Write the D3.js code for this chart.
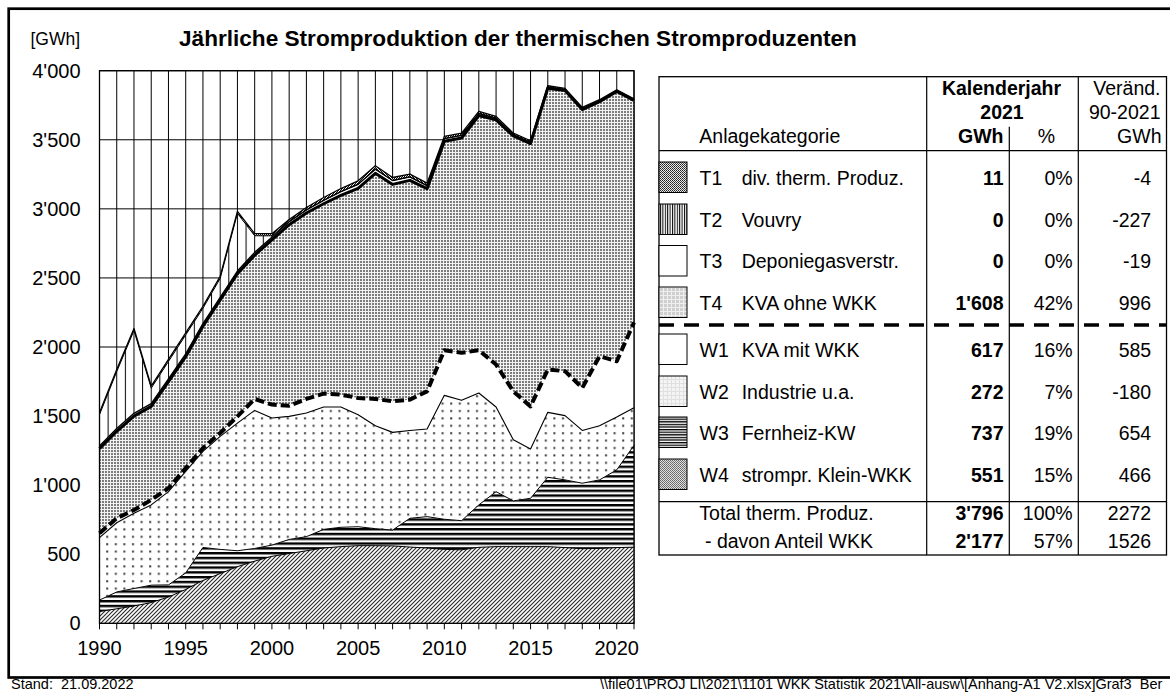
<!DOCTYPE html>
<html><head><meta charset="utf-8">
<script src="https://cdn.jsdelivr.net/npm/d3@7"></script>
<style>
html,body{margin:0;padding:0;background:#fff;}
svg{display:block;}
text{font-family:"Liberation Sans",Arial,Helvetica,sans-serif;fill:#000;}
</style>
</head><body>
<svg id="c" width="1170" height="693"></svg>
<script>
// ---------------- DATA ----------------
const years = [1990,1991,1992,1993,1994,1995,1996,1997,1998,1999,2000,2001,2002,2003,2004,2005,
               2006,2007,2008,2009,2010,2011,2012,2013,2014,2015,2016,2017,2018,2019,2020,2021];
// W4 strompr. Klein-WKK
const W4 = [85,105,125,150,190,245,310,360,410,450,485,505,525,545,555,562,562,560,552,545,535,532,550,555,555,555,555,548,540,542,548,551];
// W3 Fernheiz-KW
const W3 = [83,122,127,126,88,120,239,175,115,92,81,102,102,135,140,137,123,115,208,227,218,211,307,398,331,350,502,490,474,496,563,737];
// W2 Industrie u.a.
const W2 = [452,501,544,581,675,734,695,818,924,999,920,891,895,886,871,811,745,707,636,634,897,871,810,613,442,356,470,465,382,392,382,272];
// W1 KVA mit WKK
const W1 = [32,32,24,36,25,24,24,24,49,83,97,77,102,96,89,121,194,225,223,273,327,344,310,307,351,309,310,322,308,503,404,617];
// T4 KVA ohne WKK
const T4 = [612,630,680,677,772,807,882,963,1032,1041,1192,1310,1346,1375,1442,1517,1633,1570,1587,1467,1512,1555,1698,1771,1849,1903,2036,2031,2015,1843,1953,1608];
// T3 Deponiegasverstr.
const T3 = [19,20,20,20,20,20,20,20,20,20,20,22,22,25,28,30,30,28,25,22,19,19,15,12,8,8,7,6,5,4,2,0];
// T2 Vouvry
const T2 = [227,412,599,112,125,137,110,137,417,120,10,0,0,0,0,0,0,0,0,0,0,0,0,0,0,0,0,0,0,0,0,0];
// T1 div. therm. Produz.
const T1 = [15,15,15,15,15,15,15,15,15,15,15,15,18,20,22,25,25,22,20,18,16,16,15,13,12,12,11,10,10,10,10,11];

const yTicks = [0,500,1000,1500,2000,2500,3000,3500,4000];
const xTickLabels = [1990,1995,2000,2005,2010,2015,2020];

const title = "Jährliche Stromproduktion der thermischen Stromproduzenten";
const unitLabel = "[GWh]";

const legCodes = ["T1","T2","T3","T4","W1","W2","W3","W4"];
const legNames = ["div. therm. Produz.","Vouvry","Deponiegasverstr.","KVA ohne WKK","KVA mit WKK","Industrie u.a.","Fernheiz-KW","strompr. Klein-WKK"];
const gwh2021 = ["11","0","0","1'608","617","272","737","551"];
const pct2021 = ["0%","0%","0%","42%","16%","7%","19%","15%"];
const chg9021 = ["-4","-227","-19","996","585","-180","654","466"];
const totLabels = ["Total therm. Produz.","- davon Anteil WKK"];
const totGwh = ["3'796","2'177"];
const totPct = ["100%","57%"];
const totChg = ["2272","1526"];

const footLeft = "Stand:  21.09.2022";
const footPath = "\\\\file01\\PROJ LI\\2021\\1101 WKK Statistik 2021\\All-ausw\\[Anhang-A1 V2.xlsx]Graf3";
const footTail = "  Ber";

// ---------------- SETUP ----------------
const svg = d3.select("#c");
const defs = svg.append("defs");
const fmt = d3.formatLocale({decimal:".", thousands:"'", grouping:[3], currency:["",""]}).format(",");

const x = d3.scaleLinear().domain([1990,2021]).range([99.5,634]);
const y = d3.scaleLinear().domain([0,4000]).range([623.3,70.7]);

function pattern(id, w, h, draw, tx) {
  const p = defs.append("pattern").attr("id", id).attr("patternUnits","userSpaceOnUse")
    .attr("width", w).attr("height", h);
  if (tx !== undefined) p.attr("patternTransform", `translate(${tx},0)`);
  draw(p);
}
// chart patterns
pattern("pT1", 2, 2, p => { p.append("rect").attr("width",2).attr("height",2).attr("fill","#fff");
  p.append("rect").attr("width",1).attr("height",1).attr("fill","#111");
  p.append("rect").attr("x",1).attr("y",1).attr("width",1).attr("height",1).attr("fill","#111"); });
const hw = (x(1991)-x(1990))/2;
pattern("pT2", hw, 10, p => { p.append("rect").attr("width",hw).attr("height",10).attr("fill","#fff");
  p.append("rect").attr("x",0).attr("width",1).attr("height",10).attr("fill","#000"); }, x(1990)-0.5);
pattern("pT4", 3, 3, p => { p.append("rect").attr("width",3).attr("height",3).attr("fill","#f2f2f2");
  p.append("rect").attr("width",2).attr("height",2).attr("fill","#7c7c7c"); });
pattern("pW2", 8.6, 7.4, p => { p.append("rect").attr("width",8.6).attr("height",7.4).attr("fill","#fff");
  p.append("rect").attr("x",3).attr("y",3).attr("width",2).attr("height",2).attr("fill","#3a3a3a"); });
pattern("pW3", 10, 4.8, p => { p.append("rect").attr("width",10).attr("height",4.8).attr("fill","#fff");
  p.append("rect").attr("width",10).attr("height",2.4).attr("fill","#000"); });
pattern("pW4", 4, 4, p => { p.append("rect").attr("width",4).attr("height",4).attr("fill","#fff");
  p.append("path").attr("d","M-1,1 L1,-1 M0,4 L4,0 M3,5 L5,3").attr("stroke","#2a2a2a").attr("stroke-width",1.15); });
// legend patterns
pattern("lT1", 2, 2, p => { p.append("rect").attr("width",2).attr("height",2).attr("fill","#e8e8e8");
  p.append("rect").attr("width",1).attr("height",1).attr("fill","#222");
  p.append("rect").attr("x",1).attr("y",1).attr("width",1).attr("height",1).attr("fill","#444"); });
pattern("lT2", 2.4, 4, p => { p.append("rect").attr("width",2.4).attr("height",4).attr("fill","#fff");
  p.append("rect").attr("width",1).attr("height",4).attr("fill","#000"); });
pattern("lT4", 4, 4, p => { p.append("rect").attr("width",4).attr("height",4).attr("fill","#cfcfcf");
  p.append("rect").attr("x",3).attr("width",1).attr("height",4).attr("fill","#efefef");
  p.append("rect").attr("y",3).attr("width",4).attr("height",1).attr("fill","#efefef"); });
pattern("lW2", 4, 4, p => { p.append("rect").attr("width",4).attr("height",4).attr("fill","#f4f4f4");
  p.append("rect").attr("x",3).attr("width",1).attr("height",4).attr("fill","#e0e0e0");
  p.append("rect").attr("y",3).attr("width",4).attr("height",1).attr("fill","#e0e0e0"); });
pattern("lW3", 4, 2.6, p => { p.append("rect").attr("width",4).attr("height",2.6).attr("fill","#fff");
  p.append("rect").attr("width",4).attr("height",1.3).attr("fill","#000"); });
pattern("lW4", 2, 2, p => { p.append("rect").attr("width",2).attr("height",2).attr("fill","#e0e0e0");
  p.append("rect").attr("width",1).attr("height",1).attr("fill","#666");
  p.append("rect").attr("x",1).attr("y",1).attr("width",1).attr("height",1).attr("fill","#777"); });

// ---------------- FRAME ----------------
svg.append("rect").attr("x",8.7).attr("y",8.7).attr("width",1175).attr("height",668.8)
  .attr("fill","#fff").attr("stroke","#000").attr("stroke-width",2.7);

// title + unit
svg.append("text").attr("x",179).attr("y",45.5).attr("font-size",22.6).attr("font-weight","bold").text(title);
svg.append("text").attr("x",30.5).attr("y",45).attr("font-size",17.5).text(unitLabel);

// ---------------- CHART ----------------
const g = svg.append("g");
g.append("rect").attr("x",x(1990)).attr("y",y(4000)).attr("width",x(2021)-x(1990)).attr("height",y(0)-y(4000)).attr("fill","#fff");
// gridlines
g.selectAll(".hg").data(yTicks).join("line").attr("x1",x(1990)).attr("x2",x(2021))
  .attr("y1",d=>y(d)).attr("y2",d=>y(d)).attr("stroke","#000").attr("stroke-width",1);
g.selectAll(".vg").data(years).join("line").attr("x1",d=>x(d)).attr("x2",d=>x(d))
  .attr("y1",y(0)).attr("y2",y(4000)).attr("stroke","#000").attr("stroke-width",1);

const keys = ["W4","W3","W2","W1","T4","T3","T2","T1"];
const src = {W4,W3,W2,W1,T4,T3,T2,T1};
const rows = years.map((yr,i) => { const o = {year:yr}; keys.forEach(k => o[k] = src[k][i]); return o; });
const stack = d3.stack().keys(keys)(rows);
const fills = {W4:"url(#pW4)",W3:"url(#pW3)",W2:"url(#pW2)",W1:"#fff",T4:"url(#pT4)",T3:"#fff",T2:"url(#pT2)",T1:"url(#pT1)"};
const area = d3.area().x(d=>x(d.data.year)).y0(d=>y(d[0])).y1(d=>y(d[1]));
g.selectAll(".ar").data(stack).join("path").attr("d",area).attr("fill",d=>fills[d.key]).attr("stroke","none");

const topLine = d3.line().x(d=>x(d.data.year)).y(d=>y(d[1]));
const lineStyle = {
  W4:{w:1,dash:null}, W3:{w:1,dash:null}, W2:{w:1.1,dash:null}, W1:{w:4,dash:"9,4"},
  T4:{w:3,dash:null}, T3:{w:1.4,dash:null}, T2:{w:1,dash:null}, T1:{w:1.3,dash:null}
};
g.selectAll(".tl").data(stack).join("path").attr("d",d=>topLine(d)).attr("fill","none")
  .attr("stroke","#000").attr("stroke-width",d=>lineStyle[d.key].w)
  .attr("stroke-dasharray",d=>lineStyle[d.key].dash).attr("stroke-linejoin","round");

// plot border
g.append("rect").attr("x",x(1990)).attr("y",y(4000)).attr("width",x(2021)-x(1990)).attr("height",y(0)-y(4000))
  .attr("fill","none").attr("stroke","#000").attr("stroke-width",1.3);
// x ticks
g.selectAll(".xt").data(years).join("line").attr("x1",d=>x(d)).attr("x2",d=>x(d))
  .attr("y1",y(0)).attr("y2",y(0)+6).attr("stroke","#000").attr("stroke-width",1);
g.selectAll(".xl").data(xTickLabels).join("text").attr("x",d=>x(d)).attr("y",655)
  .attr("text-anchor","middle").attr("font-size",20).text(d=>d);
g.selectAll(".yl").data(yTicks).join("text").attr("x",80.5).attr("y",d=>y(d)+7)
  .attr("text-anchor","end").attr("font-size",20).text(d=>fmt(d));

// ---------------- TABLE ----------------
const t = svg.append("g");
const TL=659, TR=1166.5, TT=76.7, TB=555;
const cLab=926.7, cPct=1009.3, cChg=1078.3;
const fs = 19.5;
t.append("rect").attr("x",TL).attr("y",TT).attr("width",TR-TL).attr("height",TB-TT)
  .attr("fill","#fff").attr("stroke","#000").attr("stroke-width",1.3);
t.append("line").attr("x1",cLab).attr("x2",cLab).attr("y1",TT).attr("y2",TB).attr("stroke","#000").attr("stroke-width",1.2);
t.append("line").attr("x1",cPct).attr("x2",cPct).attr("y1",126.7).attr("y2",TB).attr("stroke","#000").attr("stroke-width",1.2);
t.append("line").attr("x1",cChg).attr("x2",cChg).attr("y1",TT).attr("y2",TB).attr("stroke","#000").attr("stroke-width",1.2);
t.append("line").attr("x1",TL).attr("x2",TR).attr("y1",150.7).attr("y2",150.7).attr("stroke","#000").attr("stroke-width",1.2);
t.append("line").attr("x1",TL).attr("x2",TR).attr("y1",501.7).attr("y2",501.7).attr("stroke","#000").attr("stroke-width",1.2);
t.append("line").attr("x1",TL).attr("x2",TR).attr("y1",325).attr("y2",325).attr("stroke","#000")
  .attr("stroke-width",3.6).attr("stroke-dasharray","15,10");

// header
t.append("text").attr("x",1001.5).attr("y",95).attr("text-anchor","middle").attr("font-size",fs).attr("font-weight","bold").text("Kalenderjahr");
t.append("text").attr("x",1002).attr("y",118.5).attr("text-anchor","middle").attr("font-size",fs).attr("font-weight","bold").text("2021");
t.append("text").attr("x",1003.5).attr("y",143.3).attr("text-anchor","end").attr("font-size",fs).attr("font-weight","bold").text("GWh");
t.append("text").attr("x",1046.5).attr("y",143.3).attr("text-anchor","middle").attr("font-size",fs).text("%");
t.append("text").attr("x",1160.5).attr("y",95).attr("text-anchor","end").attr("font-size",fs).text("Veränd.");
t.append("text").attr("x",1160.5).attr("y",118.5).attr("text-anchor","end").attr("font-size",fs).text("90-2021");
t.append("text").attr("x",1161.5).attr("y",143.3).attr("text-anchor","end").attr("font-size",fs).text("GWh");
t.append("text").attr("x",699.3).attr("y",143.3).attr("font-size",fs).text("Anlagekategorie");

const swTop = [162,204,245.5,287,334,376,417,459];
const legFill = {T1:"url(#lT1)",T2:"url(#lT2)",T3:"#fff",T4:"url(#lT4)",W1:"#fff",W2:"url(#lW2)",W3:"url(#lW3)",W4:"url(#lW4)"};
legCodes.forEach((c,i) => {
  const top = swTop[i], base = top + 22.5;
  t.append("rect").attr("x",TL).attr("y",top).attr("width",28).attr("height",30.5)
    .attr("fill",legFill[c]).attr("stroke","#000").attr("stroke-width",1);
  t.append("text").attr("x",699.5).attr("y",base).attr("font-size",fs).text(c);
  t.append("text").attr("x",741.7).attr("y",base).attr("font-size",fs).text(legNames[i]);
  t.append("text").attr("x",1003.5).attr("y",base).attr("text-anchor","end").attr("font-size",fs).attr("font-weight","bold").text(gwh2021[i]);
  t.append("text").attr("x",1072.7).attr("y",base).attr("text-anchor","end").attr("font-size",fs).text(pct2021[i]);
  t.append("text").attr("x",1151.2).attr("y",base).attr("text-anchor","end").attr("font-size",fs).text(chg9021[i]);
});
const totBase = [520,548];
const totX = [699.3,705];
totLabels.forEach((l,i) => {
  t.append("text").attr("x",totX[i]).attr("y",totBase[i]).attr("font-size",fs).text(l);
  t.append("text").attr("x",1003.5).attr("y",totBase[i]).attr("text-anchor","end").attr("font-size",fs).attr("font-weight","bold").text(totGwh[i]);
  t.append("text").attr("x",1072.7).attr("y",totBase[i]).attr("text-anchor","end").attr("font-size",fs).text(totPct[i]);
  t.append("text").attr("x",1151.2).attr("y",totBase[i]).attr("text-anchor","end").attr("font-size",fs).text(totChg[i]);
});

// ---------------- FOOTER ----------------
svg.append("text").attr("x",11).attr("y",689).attr("font-size",14.5).style("white-space","pre").text(footLeft);
const fp = svg.append("text").attr("y",689).attr("font-size",14.5).style("white-space","pre").text(footPath + footTail);
const L = fp.node().getSubStringLength(0, footPath.length);
fp.attr("x", 1131.7 - L);
</script>
</body></html>
